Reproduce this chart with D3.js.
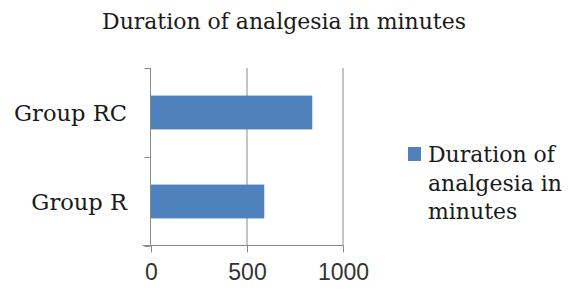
<!DOCTYPE html>
<html>
<head>
<meta charset="utf-8">
<script src="https://cdn.jsdelivr.net/npm/d3@7"></script>
<style>
  body { margin: 0; background: #fff; }
  svg { display: block; }
  .serif { font-family: "DejaVu Serif", "Liberation Serif", serif; fill: #1a1a1a; }
  .num { font-family: "Liberation Sans", "Open Sans", sans-serif; fill: #333; }
</style>
</head>
<body>
<svg width="570" height="298"></svg>
<script>
// chart values
var categories = ["Group RC", "Group R"];
var durations = [840, 590];
var xTicks = [0, 500, 1000];
var chartTitle = "Duration of analgesia in minutes";
var legendLines = ["Duration of", "analgesia in", "minutes"];

var svg = d3.select("svg");
var barColor = "#4f81bd", lineColor = "#8a8a8a";

var x = d3.scaleLinear().domain([0, 1000]).range([151, 343]);
var y = d3.scaleBand().domain(categories).range([68, 246])
  .paddingInner(0.62).paddingOuter(0.31);

// font size that makes a text this wide
function fitSize(str, w) {
  var t = svg.append("text").attr("class", "serif").attr("font-size", 20).text(str);
  var len = t.node().getComputedTextLength();
  t.remove();
  return (20 * w / len).toFixed(2);
}

// title
svg.append("text").attr("class", "serif")
  .attr("x", 284).attr("y", 29).attr("text-anchor", "middle")
  .attr("font-size", fitSize(chartTitle, 364)).text(chartTitle);

// gridlines
svg.append("g").selectAll("line")
  .data(xTicks.slice(1)).enter()
  .append("line")
  .attr("x1", function(d) { return x(d); })
  .attr("x2", function(d) { return x(d); })
  .attr("y1", 68).attr("y2", 246)
  .attr("stroke", lineColor);

// bars
svg.append("g").selectAll("rect")
  .data(durations).enter()
  .append("rect")
  .attr("x", x(0))
  .attr("y", function(d, i) { return y(categories[i]); })
  .attr("width", function(d) { return x(d) - x(0); })
  .attr("height", y.bandwidth())
  .attr("fill", barColor);

// x axis
var xAxis = svg.append("g").attr("transform", "translate(0,245.5)")
  .call(d3.axisBottom(x).tickValues(xTicks).tickSize(7).tickSizeOuter(0).tickFormat(d3.format("d")));
xAxis.select(".domain").attr("stroke", lineColor).attr("d", "M143,0H343");
xAxis.selectAll(".tick line").attr("stroke", lineColor);
xAxis.selectAll(".tick text").attr("class", "num")
  .attr("font-size", 23).attr("y", 34).attr("dy", 0);

// y axis with ticks between categories
var yAxis = svg.append("g").attr("transform", "translate(150.5,0)");
yAxis.append("line").attr("y1", 68).attr("y2", 246).attr("stroke", lineColor);
var bounds = [68, 157, 246];
yAxis.selectAll(".tk").data(bounds).enter().append("line")
  .attr("x1", -6).attr("x2", 0)
  .attr("y1", function(d) { return d + 0.5; })
  .attr("y2", function(d) { return d + 0.5; })
  .attr("stroke", lineColor);

var catSize = fitSize(categories[0], 113);
svg.append("g").selectAll("text")
  .data(categories).enter()
  .append("text").attr("class", "serif")
  .attr("x", 127)
  .attr("y", function(d) { return y(d) + y.bandwidth() / 2 + 8; })
  .attr("text-anchor", "end")
  .attr("font-size", catSize)
  .text(function(d) { return d; });

// legend
var legSize = fitSize(legendLines[0], 127);
var lg = svg.append("g");
lg.append("rect").attr("x", 408).attr("y", 147).attr("width", 13).attr("height", 14).attr("fill", barColor);
lg.selectAll("text").data(legendLines).enter()
  .append("text").attr("class", "serif")
  .attr("x", 428)
  .attr("y", function(d, i) { return 162 + i * 28.5; })
  .attr("font-size", legSize)
  .text(function(d) { return d; });
</script>
</body>
</html>
